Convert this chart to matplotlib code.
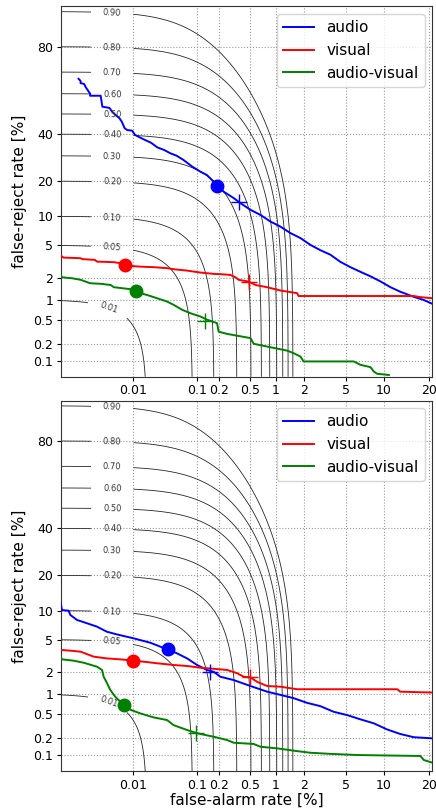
import statistics

import matplotlib
matplotlib.use("Agg")
import matplotlib.pyplot as plt
import numpy as np

# DET curves, values in percent (false-alarm, false-reject)
top_audio_fa = [0.0011, 0.0012, 0.0012, 0.0014, 0.0015, 0.0016, 0.0018, 0.0018, 0.0028, 0.0030,
                0.0040, 0.0045, 0.0051, 0.0060, 0.0066, 0.0073, 0.0081, 0.0098, 0.011, 0.013,
                0.016, 0.020, 0.025, 0.032, 0.040, 0.050, 0.063, 0.084, 0.11, 0.136, 0.168,
                0.229, 0.309, 0.376, 0.50, 0.66, 0.86, 1.12, 1.43, 1.83, 2.31, 2.89, 3.59,
                4.43, 5.42, 6.58, 7.92, 9.44, 11.2, 13.1, 16.1, 18.6, 20.9]
top_audio_fr = [67, 66, 65, 64.6, 63, 62, 60, 59, 59, 53.6,
                53, 51, 49.5, 47.8, 46, 43, 42, 41.7, 39.6, 38.5,
                37.2, 35.9, 33.8, 32.6, 31.1, 30, 28.2, 25.5, 23.5, 22.2, 19.8,
                16.5, 14.6, 13.2, 11.5, 10.3, 8.9, 7.9, 6.8, 6.0, 5.05, 4.4, 3.9,
                3.2, 2.75, 2.4, 2.1, 1.8, 1.5, 1.3, 1.1, 0.99, 0.87]

top_visual_fa = [0.0005, 0.00057, 0.0012, 0.0013, 0.0022, 0.0024, 0.0048, 0.0062, 0.0092, 0.0134,
                 0.022, 0.036, 0.045, 0.071, 0.11, 0.168, 0.207, 0.28, 0.325, 0.357, 0.476,
                 0.574, 0.79, 1.12, 1.69, 1.75, 16.1, 17.7, 20.9]
top_visual_fr = [3.8, 3.6, 3.54, 3.45, 3.38, 3.22, 3.17, 3.08, 2.85, 2.79,
                 2.75, 2.67, 2.59, 2.49, 2.35, 2.26, 2.24, 2.19, 2.04, 1.89, 1.79,
                 1.61, 1.50, 1.35, 1.24, 1.13, 1.13, 1.09, 1.05]

top_av_fa = [0.0005, 0.00053, 0.00083, 0.0012, 0.0018, 0.0028, 0.0042, 0.0048, 0.0092, 0.0134,
             0.0172, 0.0249, 0.0356, 0.0449, 0.060, 0.079, 0.11, 0.136, 0.187, 0.196, 0.254,
             0.50, 0.548, 0.79, 1.32, 1.55, 1.83, 1.97, 5.79, 6.58, 7.92, 8.4, 8.9, 10.9]
top_av_fr = [2.19, 2.04, 1.98, 1.89, 1.70, 1.67, 1.61, 1.50, 1.41, 1.24,
             1.17, 1.05, 0.94, 0.84, 0.71, 0.63, 0.56, 0.50, 0.44, 0.32, 0.294,
             0.25, 0.20, 0.179, 0.152, 0.137, 0.119, 0.097, 0.097, 0.084, 0.076, 0.063, 0.057, 0.054]

bot_audio_fa = [0.0005, 0.00053, 0.00071, 0.00077, 0.00103, 0.00158, 0.0024, 0.0036, 0.0054, 0.0104,
                0.0195, 0.028, 0.0504, 0.071, 0.099, 0.136, 0.168, 0.207, 0.309, 0.50, 0.79,
                1.12, 1.55, 2.14, 2.89, 3.86, 5.07, 6.58, 8.4, 10.6, 13.1, 16.1, 20.9]
bot_audio_fr = [11.7, 10.1, 9.97, 9.05, 8.08, 7.48, 6.9, 6.1, 5.7, 5.16,
                4.6, 4.15, 3.46, 3.0, 2.48, 2.14, 2.03, 1.74, 1.57, 1.30, 1.08,
                0.97, 0.87, 0.74, 0.66, 0.54, 0.48, 0.41, 0.354, 0.28, 0.235, 0.207, 0.198]

bot_visual_fa = [0.0005, 0.00077, 0.0012, 0.0021, 0.0036, 0.0062, 0.0152, 0.0249, 0.0449, 0.071,
                 0.11, 0.207, 0.254, 0.342, 0.414, 0.50, 0.60, 0.79, 1.12, 1.69, 12.5, 13.1, 20.9]
bot_visual_fr = [3.8, 3.72, 3.62, 3.15, 3.0, 2.92, 2.73, 2.61, 2.48, 2.41,
                 2.29, 2.18, 2.14, 1.94, 1.74, 1.71, 1.49, 1.30, 1.27, 1.17, 1.17, 1.08, 1.05]

bot_av_fa = [0.0005, 0.00053, 0.00089, 0.00137, 0.0024, 0.00296, 0.00317, 0.00364, 0.00416, 0.00507,
             0.0066, 0.0092, 0.0134, 0.022, 0.0356, 0.0449, 0.071, 0.094, 0.11, 0.168, 0.254,
             0.309, 0.548, 0.66, 1.03, 1.55, 2.31, 3.59, 6.17, 17.7, 18.6, 20.9]
bot_av_fr = [3.1, 2.92, 2.81, 2.65, 2.36, 2.14, 1.74, 1.42, 1.14, 0.91,
             0.73, 0.58, 0.51, 0.44, 0.40, 0.33, 0.274, 0.247, 0.235, 0.211, 0.185,
             0.166, 0.158, 0.141, 0.132, 0.120, 0.110, 0.105, 0.100, 0.096, 0.081, 0.072]

# operating points: circle and plus markers (percent)
top_dots = {"audio": (0.186, 18.2), "visual": (0.0075, 2.91), "audio-visual": (0.0115, 1.33)}
top_plus = {"audio": (0.357, 13.6), "visual": (0.476, 1.79), "audio-visual": (0.129, 0.47)}
bot_dots = {"audio": (0.0364, 3.9), "visual": (0.0102, 2.81), "audio-visual": (0.0071, 0.68)}
bot_plus = {"audio": (0.148, 2.03), "visual": (0.50, 1.74), "audio-visual": (0.094, 0.247)}

cost_levels = [0.01, 0.05, 0.1, 0.2, 0.3, 0.4, 0.5, 0.6, 0.7, 0.8, 0.9]
cost_beta = 59.0

x_ticks = [0.01, 0.1, 0.2, 0.5, 1, 2, 5, 10, 20]
x_ticklabels = ["0.01", "0.1", "0.2", "0.5", "1", "2", "5", "10", "20"]
y_ticks = [0.1, 0.2, 0.5, 1, 2, 5, 10, 20, 40, 80]
y_ticklabels = ["0.1", "0.2", "0.5", "1", "2", "5", "10", "20", "40", "80"]
x_lim = (0.0005, 20.85)
y_lim = (0.05, 91.07)

colors = {"audio": "b", "visual": "r", "audio-visual": "g"}

_nd = statistics.NormalDist()


def probit(p):
    p = np.asarray(p, dtype=float)
    flat = [_nd.inv_cdf(v) for v in p.ravel()]
    return np.array(flat).reshape(p.shape)


def pct(v):
    return probit(np.asarray(v, dtype=float) / 100.0)


def draw_panel(ax, curves, dots, plus):
    x0, x1 = pct(x_lim)
    y0, y1 = pct(y_lim)

    # cost contours
    gx = np.linspace(x0, x1, 200)
    gy = np.linspace(y0, y1, 200)
    X, Y = np.meshgrid(gx, gy)
    cdf = np.vectorize(_nd.cdf)
    C = cdf(Y) + cost_beta * cdf(X)
    cs = ax.contour(X, Y, C, levels=cost_levels, colors="0.15", linewidths=0.6)
    lx = float(pct(0.0045))
    manual = [(float(pct(0.0034)), float(pct(0.55)))]
    manual += [(lx, float(probit(lv))) for lv in cost_levels[1:]]
    ax.clabel(cs, fmt="%.2f", fontsize=6, inline=True, inline_spacing=12,
              manual=manual, colors="0.2")

    for name, (fa, fr) in curves.items():
        ax.plot(pct(fa), pct(fr), color=colors[name], lw=1.4, label=name, zorder=3)
    for name, (fa, fr) in dots.items():
        ax.plot(pct(fa), pct(fr), "o", color=colors[name], ms=9, zorder=4)
    for name, (fa, fr) in plus.items():
        ax.plot(pct(fa), pct(fr), "+", color=colors[name], ms=12, mew=1.0, zorder=4)

    ax.set_xlim(x0, x1)
    ax.set_ylim(y0, y1)
    ax.set_xticks(pct(x_ticks))
    ax.set_xticklabels(x_ticklabels, fontsize=9)
    ax.set_yticks(pct(y_ticks))
    ax.set_yticklabels(y_ticklabels, fontsize=9)
    ax.tick_params(length=3, pad=2.5)
    ax.grid(True, linestyle=":", color="0.6", linewidth=0.8)
    ax.set_ylabel("false-reject rate [%]", fontsize=11)
    for sp in ax.spines.values():
        sp.set_color("0.2")
    ax.legend(loc="upper right", fontsize=11)


fig = plt.figure(figsize=(4.36, 8.11), dpi=100)
ax_top = fig.add_axes([0.1392, 0.5355, 0.852, 0.4565])
ax_bot = fig.add_axes([0.1392, 0.0493, 0.852, 0.4566])

draw_panel(ax_top,
           {"audio": (top_audio_fa, top_audio_fr),
            "visual": (top_visual_fa, top_visual_fr),
            "audio-visual": (top_av_fa, top_av_fr)},
           top_dots, top_plus)
draw_panel(ax_bot,
           {"audio": (bot_audio_fa, bot_audio_fr),
            "visual": (bot_visual_fa, bot_visual_fr),
            "audio-visual": (bot_av_fa, bot_av_fr)},
           bot_dots, bot_plus)
ax_bot.set_xlabel("false-alarm rate [%]", fontsize=11, labelpad=1)

fig.savefig("out.png", dpi=100)
